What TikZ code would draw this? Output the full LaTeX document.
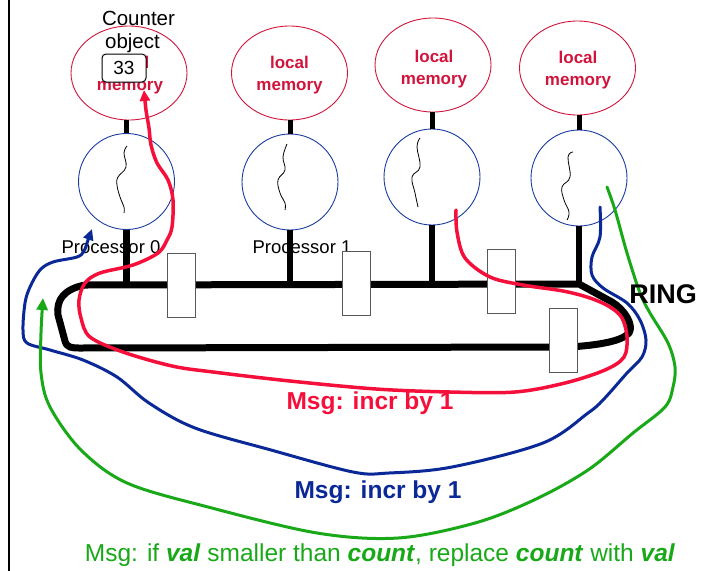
\documentclass[tikz,border=0pt]{standalone}
\usepackage{fontspec}
\setmainfont{Liberation Sans}
\usetikzlibrary{shapes.geometric,arrows.meta}
\definecolor{memred}{HTML}{D0143C}
\definecolor{procblue}{HTML}{1A3CA0}
\definecolor{msgred}{HTML}{F5103C}
\definecolor{msgblue}{HTML}{0A2896}
\definecolor{msggreen}{HTML}{18A818}
\newcommand{\fsz}[1]{\fontsize{#1}{#1}\selectfont}
\begin{document}
\begin{tikzpicture}[x=1pt,y=-1pt,
  mem/.style={ellipse, draw=memred, line width=0.9pt, minimum width=116pt, minimum height=94pt, inner sep=0pt},
  proc/.style={circle, draw=procblue, line width=0.9pt, minimum size=96pt, inner sep=0pt},
  memtxt/.style={text=memred, font=\bfseries\fsz{17}, anchor=base, inner sep=0pt},
  plabel/.style={font=\fsz{18.5}, anchor=base, inner sep=0pt},
  mbar/.style={line width=5pt},
  pbar/.style={line width=6.5pt},
  ringline/.style={line width=7pt, line join=round},
  buf/.style={draw=black!65, fill=white, line width=1pt, minimum width=28pt, minimum height=64pt, inner sep=0pt},
  squig/.style={line width=0.8pt},
  redcurve/.style={draw=msgred, line width=3.5pt, line cap=round, -{Triangle[length=11pt,width=10pt]}},
  bluecurve/.style={draw=msgblue, line width=3pt, line cap=round, -{Triangle[length=11pt,width=10pt]}},
  greencurve/.style={draw=msggreen, line width=3pt, line cap=round, -{Triangle[length=12pt,width=11pt]}},
  msg/.style={anchor=base, inner sep=0pt}
]
\useasboundingbox (0,0) rectangle (708,570);

% left border
\draw[line width=2pt] (9,-2) -- (9,572);

% memories
\node[mem] (m0) at (129,73) {};
\node[mem] (m1) at (289.5,73) {};
\node[mem] (m2) at (433,65) {};
\node[mem] (m3) at (577.5,68) {};
\node[memtxt] (m0a) at (130,68) {local};
\node[memtxt] (m0b) at (130,90) {memory};
\node[memtxt] (m1a) at (289.5,68) {local};
\node[memtxt] (m1b) at (289.5,90) {memory};
\node[memtxt] (m2a) at (434,62) {local};
\node[memtxt] (m2b) at (434,84) {memory};
\node[memtxt] (m3a) at (578,63) {local};
\node[memtxt] (m3b) at (578,85) {memory};

% counter object
\node[font=\fsz{20.5}, anchor=base, inner sep=0pt] (cnt1) at (138.5,25) {Counter};
\node[font=\fsz{20.5}, anchor=base, inner sep=0pt] (cnt2) at (132.5,48) {object};
\node[draw, fill=white, rounded corners=4pt, line width=1pt, minimum width=44pt, minimum height=28pt, inner sep=0pt, font=\fsz{19}] (val) at (124,68) {33};

% processors
\node[proc] (p0) at (126.5,181.5) {};
\node[proc] (p1) at (290,182) {};
\node[proc] (p2) at (432,177) {};
\node[proc] (p3) at (579,178) {};

\draw[mbar] (m0.south -| p0) -- (p0.north);
\draw[mbar] (m1.south -| p1) -- (p1.north);
\draw[mbar] (m2.south -| p2) -- (p2.north);
\draw[mbar] (m3.south -| p3) -- (p3.north);

% squiggles
\begin{scope}[shift={(p0)}]
\draw[squig] plot[smooth, tension=0.7] coordinates {(0.5,-35.5) (-2.5,-28.5) (-0.5,-14.5) (-8.5,-4.5) (-9.5,3.5) (-6.5,15.5) (-2.5,25.5) (-2.5,31.5)};
\end{scope}
\begin{scope}[shift={(p1)}]
\draw[squig] plot[smooth, tension=0.7] coordinates {(-3,-38) (-7,-25) (-5,-12) (-12,-2) (-10,11) (-5,21) (-5,28)};
\end{scope}
\begin{scope}[shift={(p2)}]
\draw[squig] plot[smooth, tension=0.7] coordinates {(-12,-39) (-15,-30) (-12,-10) (-20,0) (-17,16) (-14,30)};
\end{scope}
\begin{scope}[shift={(p3)}]
\draw[squig] plot[smooth, tension=0.7] coordinates {(-6,-26) (-11,-21) (-9,-1) (-17,9) (-15,22) (-10,34) (-12,42)};
\end{scope}

% processor labels
\node[plabel] (pl0) at (111,253) {Processor 0};
\node[plabel] (pl1) at (302,253) {Processor 1};

% bars to ring
\coordinate (rt) at (0,285);
\draw[pbar] (p0.south) -- (p0.south |- rt);
\draw[pbar] (p1.south) -- (p1.south |- rt);
\draw[pbar] (p2.south) -- (p2.south |- rt);
\draw[pbar] (p3.south) -- (p3.south |- rt);

% ring
\draw[ringline] (579,284) -- (85,285) .. controls (64,289) and (56,300) .. (58,315) -- (65,341) .. controls (67,348) and (72,348) .. (80,348) -- (570,347) .. controls (600,345) and (622,341) .. (629,333) .. controls (634,325) and (625,310) .. (612,302) -- cycle;

% buffers
\node[buf] (b0) at (181,285) {};
\node[buf] (b1) at (356,283.5) {};
\node[buf] (b2) at (501,281) {};
\node[buf] (b3) at (563,340) {};

% curves
\draw[redcurve] plot[smooth, tension=0.55] coordinates {(456,210) (457,232) (465,258) (490,277) (523,285) (563,291) (590,298) (610,307) (622,318) (627,337) (624,357) (605,370) (565,383) (515,392) (450,392) (376,389) (290,381) (213,372) (172,366) (123,352) (90,337) (81,318) (79,300) (85,283) (100,273) (133,265) (158,253) (167,240) (172,227) (173,200) (168,180) (157,163) (151,145) (149,128) (146,110) (144,90)};

\draw[bluecurve] plot[smooth, tension=0.55] coordinates {(600,207) (600,237) (592,257) (592,275) (603,288) (627,303) (640,320) (646,340) (642,357) (627,373) (603,400) (588,413) (543,443) (452,467) (389,473) (353,472) (271,450) (195,428) (149,403) (117,377) (83,360) (50,350) (27,343) (23,330) (25,303) (30,287) (40,270) (53,262) (77,257) (84,251) (88,240) (92,229)};

\draw[greencurve] plot[smooth, tension=0.55] coordinates {(607,187) (615,210) (627,253) (640,293) (650,313) (668,343) (675,367) (673,387) (665,407) (633,433) (588,470) (534,500) (475,523) (398,538) (317,533) (208,507) (127,483) (81,450) (50,407) (41,373) (41,333) (43,298)};

% labels
\node[msg, font=\bfseries\fsz{27}] (ring) at (663,303) {RING};
\node[msg, text=msgred, font=\bfseries\fsz{24.5}] (lr) at (370,409) {Msg: incr by 1};
\node[msg, text=msgblue, font=\bfseries\fsz{24.5}] (lb) at (378,498) {Msg: incr by 1};
\node[msg, text=msggreen, font=\fsz{24.5}] (lg) at (380,561) {Msg: if \textbf{\textit{val}} smaller than \textbf{\textit{count}}, replace \textbf{\textit{count}} with \textbf{\textit{val}}};
\end{tikzpicture}
\end{document}
